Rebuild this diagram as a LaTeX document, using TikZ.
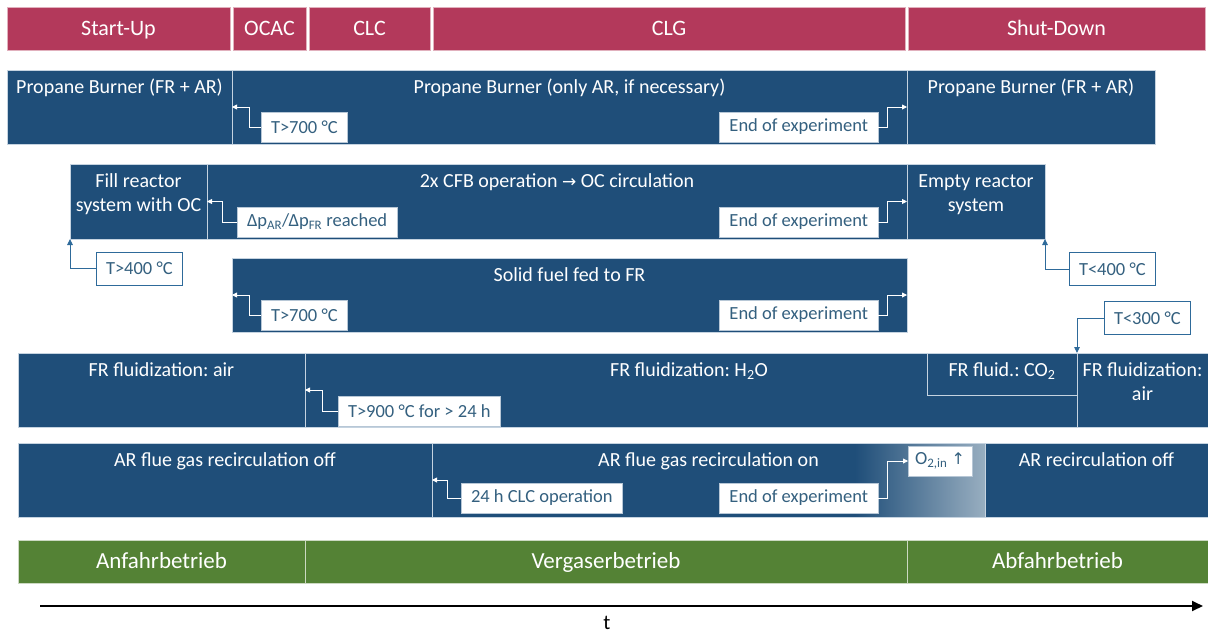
\documentclass[tikz,border=0pt]{standalone}
\usepackage{fontspec}
\setmainfont{Carlito}
\newfontfamily\symfont{DejaVu Sans}
\usetikzlibrary{calc,arrows.meta}

\definecolor{bluebox}{HTML}{1F4E79}
\definecolor{sepline}{HTML}{C5D3E0}
\definecolor{redhdr}{HTML}{B3395B}
\definecolor{greenbar}{HTML}{548235}
\definecolor{lbltext}{HTML}{34607F}
\definecolor{lblline}{HTML}{B7C7D6}
\definecolor{outline}{HTML}{2E6A9A}
\definecolor{fadecol}{HTML}{98AEC0}

\newcommand\hdrfont{\fontsize{22}{26}\selectfont}
\newcommand\grnfont{\fontsize{23}{27}\selectfont}
\newcommand\rowfont{\fontsize{20}{24}\selectfont}
\newcommand\lblfont{\fontsize{18.5}{22}\selectfont}

% a block spanning (x1,y1)-(x2,y2): \place[style]{name}{x1}{y1}{x2}{y2}{text};
\newcommand\place[6][blk]{\node[#1, minimum width={(#5-#3)*1pt},
  minimum height={(#6-#4)*1pt}] (#2) at (#3,#4)}

\tikzset{
  base box/.style={inner sep=0pt, outer sep=0pt, anchor=north west},
  blk/.style={base box, fill=bluebox, draw=sepline, line width=0.7pt},
  hdr/.style={base box, fill=redhdr, draw=redhdr!40!white, line width=0.6pt,
    text=white, font=\hdrfont, text height=15pt, text depth=1.5pt},
  grn/.style={base box, fill=greenbar, draw=greenbar!30!white, line width=0.7pt,
    text=white, font=\grnfont, text height=16pt, text depth=2pt},
  rowtxt/.style={anchor=base, text=white, font=\rowfont, inner sep=0pt},
  lbl/.style={fill=white, draw=lblline, line width=0.6pt, text=lbltext,
    font=\lblfont, inner xsep=10pt, inner ysep=0pt, minimum height=30pt,
    outer sep=0pt},
  olbl/.style={lbl, draw=outline, minimum height=33pt},
  wconn/.style={draw=white, line width=0.9pt,
    -{Triangle[length=5pt,width=5pt]}},
  bconn/.style={draw=outline, line width=0.9pt,
    -{Triangle[length=6pt,width=5.5pt]}},
}

\begin{document}
\frenchspacing
\begin{tikzpicture}[x=1pt,y=-1pt]
\useasboundingbox (0,0) rectangle (1208,635);

% phase header
\place[hdr]{h1}{7}{7}{230}{50}{Start-Up};
\place[hdr]{h2}{233}{7}{306}{50}{OCAC};
\place[hdr]{h3}{309}{7}{430}{50}{CLC};
\place[hdr]{h4}{433}{7}{905}{50}{CLG};
\place[hdr]{h5}{908}{7}{1205}{50}{Shut-Down};

% propane burner
\place{pb1}{7}{70}{232}{144}{};
\place{pb2}{232}{70}{907}{144}{};
\place{pb3}{907}{70}{1155}{144}{};

% reactor filling / circulation
\place{fill}{70}{164}{207}{239}{};
\place{cfb}{207}{164}{907}{239}{};
\place{empty}{907}{164}{1045}{239}{};

% solid fuel
\place{sf}{232}{258}{907}{332}{};

% FR fluidization
\place{fa}{18}{353}{305}{427}{};
\place{fh}{305}{353}{1077}{427}{};
\place{fair}{1077}{353}{1208}{427}{};
\node[base box, minimum width=150pt, minimum height=42pt] (co2) at (927,353) {};
\draw[sepline, line width=0.7pt] (co2.north west) |- (co2.south east);

% AR flue gas recirculation
\place{aroff}{18}{443}{432}{517}{};
\place{aron}{432}{443}{985}{517}{};
\place{arr}{985}{443}{1208}{517}{};
\shade[left color=bluebox, right color=fadecol]
  ($(aron.north east)+(-130,0)$) rectangle (aron.south east);
\draw[sepline, line width=0.7pt] (aron.north west) rectangle (aron.south east);

% operating modes
\place[grn]{g1}{18}{540}{305}{583}{Anfahrbetrieb};
\place[grn]{g2}{305}{540}{907}{583}{Vergaserbetrieb};
\place[grn]{g3}{907}{540}{1208}{583}{Abfahrbetrieb};

% block texts
\node[rowtxt] at ($(pb1.north)+(0,23)$) {Propane Burner (FR + AR)};
\node[rowtxt] at ($(pb2.north)+(0,23)$) {Propane Burner (only AR, if necessary)};
\node[rowtxt] at ($(pb3.north)+(0,23)$) {Propane Burner (FR + AR)};
\node[rowtxt] at ($(fill.north)+(0,23)$) {Fill reactor};
\node[rowtxt] at ($(fill.north)+(0,47)$) {system with OC};
\node[rowtxt] at ($(cfb.north)+(0,23)$) {2x CFB operation {\symfont\fontsize{17}{20}\selectfont →} OC circulation};
\node[rowtxt] at ($(empty.north)+(0,23)$) {Empty reactor};
\node[rowtxt] at ($(empty.north)+(0,47)$) {system};
\node[rowtxt] at ($(sf.north)+(0,23)$) {Solid fuel fed to FR};
\node[rowtxt] at ($(fa.north)+(0,23)$) {FR fluidization: air};
\node[rowtxt] at ($(fh.north)+(-2,23)$) {FR fluidization: H\textsubscript{2}O};
\node[rowtxt] at ($(co2.north)+(0,23)$) {FR fluid.: CO\textsubscript{2}};
\node[rowtxt] at ($(fair.north)+(0,23)$) {FR fluidization:};
\node[rowtxt] at ($(fair.north)+(0,47)$) {air};
\node[rowtxt] at ($(aroff.north)+(0,23)$) {AR flue gas recirculation off};
\node[rowtxt] at ($(aron.north)+(0,23)$) {AR flue gas recirculation on};
\node[rowtxt] at ($(arr.north)+(0,23)$) {AR recirculation off};

% transition conditions
\node[lbl, anchor=west] (l11) at (261,127) {T>700 °C};
\node[lbl, anchor=east] (l12) at (878,127) {End of experiment};
\node[lbl, anchor=west] (l21) at (237,222)
  {Δp\textsubscript{AR}/Δp\textsubscript{FR} reached};
\node[lbl, anchor=east] (l22) at (878,222) {End of experiment};
\node[lbl, anchor=west] (l31) at (261,315) {T>700 °C};
\node[lbl, anchor=east] (l32) at (878,315) {End of experiment};
\node[lbl, anchor=west] (l41) at (338,411) {T>900 °C for > 24 h};
\node[lbl, anchor=west] (l51) at (461,498) {24 h CLC operation};
\node[lbl, anchor=east] (l52) at (878,498) {End of experiment};
\node[lbl, anchor=west, inner xsep=7pt] (o2) at (908,461)
  {O\textsubscript{2,in} {\symfont\fontsize{16}{20}\selectfont ↑}};
\node[olbl, anchor=west] (t400) at (96,268.5) {T>400 °C};
\node[olbl, anchor=west] (t400b) at (1069,269) {T<400 °C};
\node[olbl, anchor=west] (t300) at (1104,318) {T<300 °C};

% connectors
\draw[wconn] (l11.west) -- ++(-12,0) |- (pb1.east);
\draw[wconn] (l12.east) -- ++(9,0) |- (pb3.west);
\draw[wconn] (l21.west) -- ++(-15,0) |- (fill.east);
\draw[wconn] (l22.east) -- ++(9,0) |- (empty.west);
\draw[wconn] (l31.west) -- ++(-12,0) |- (sf.west);
\draw[wconn] (l32.east) -- ++(9,0) |- (sf.east);
\draw[wconn] (l41.west) -- ++(-16,0) |- (fa.east);
\draw[wconn] (l51.west) -- ++(-14,0) |- (aroff.east);
\draw[wconn] (l52.east) -- ++(9,0) |- (o2.west);
\draw[bconn] (t400.west) -| (fill.south west);
\draw[bconn] (t400b.west) -| (empty.south east);
\draw[bconn] (t300.west) -| (fair.north west);

% time axis
\coordinate (ta) at (40,606);
\coordinate (tb) at (1203,606);
\draw[line width=1.8pt, -{Triangle[length=11pt,width=10pt]}] (ta) -- (tb);
\node[anchor=base, font=\fontsize{21}{25}\selectfont, inner sep=0pt] (tl) at (607,629) {t};
\end{tikzpicture}
\end{document}
